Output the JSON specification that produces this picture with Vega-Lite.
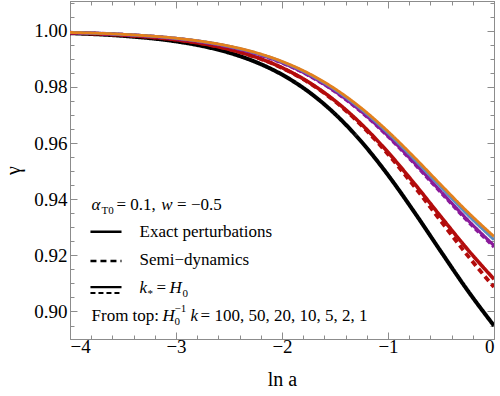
{
  "$schema": "https://vega.github.io/schema/vega-lite/v6.json",
  "width": 424,
  "height": 338,
  "autosize": {"type": "none"},
  "padding": {"left": 70, "top": 1, "right": 6, "bottom": 57},
  "background": "white",
  "view": {"stroke": "#8c8c8c"},
  "config": {
    "font": "Liberation Serif",
    "axis": {"domainColor": "#8c8c8c", "tickColor": "#8c8c8c", "grid": false, "labelFont": "Liberation Serif", "titleFont": "Liberation Serif", "labelColor": "black", "titleColor": "black", "titleFontWeight": "normal"}
  },
  "datasets": {
    "curves": [
      {"s":"1","x":-4,"y":0.99914},{"s":"1","x":-3.5,"y":0.99818},{"s":"1","x":-3,"y":0.99621},{"s":"1","x":-2.75,"y":0.99455},{"s":"1","x":-2.5,"y":0.99219},{"s":"1","x":-2.25,"y":0.9889},{"s":"1","x":-2,"y":0.98438},{"s":"1","x":-1.75,"y":0.9783},{"s":"1","x":-1.5,"y":0.97037},{"s":"1","x":-1.25,"y":0.96044},{"s":"1","x":-1,"y":0.94861},{"s":"1","x":-0.75,"y":0.9353},{"s":"1","x":-0.5,"y":0.9213},{"s":"1","x":-0.25,"y":0.90755},{"s":"1","x":0,"y":0.89493},
      {"s":"2d","x":-4,"y":0.99927},{"s":"2d","x":-3.5,"y":0.99847},{"s":"2d","x":-3,"y":0.99681},{"s":"2d","x":-2.75,"y":0.99541},{"s":"2d","x":-2.5,"y":0.99341},{"s":"2d","x":-2.25,"y":0.99062},{"s":"2d","x":-2,"y":0.98678},{"s":"2d","x":-1.75,"y":0.9816},{"s":"2d","x":-1.5,"y":0.97483},{"s":"2d","x":-1.25,"y":0.96629},{"s":"2d","x":-1,"y":0.95605},{"s":"2d","x":-0.75,"y":0.94446},{"s":"2d","x":-0.5,"y":0.93216},{"s":"2d","x":-0.25,"y":0.91998},{"s":"2d","x":0,"y":0.90872},
      {"s":"2","x":-4,"y":0.99927},{"s":"2","x":-3.5,"y":0.99847},{"s":"2","x":-3,"y":0.99681},{"s":"2","x":-2.75,"y":0.99541},{"s":"2","x":-2.5,"y":0.99342},{"s":"2","x":-2.25,"y":0.99065},{"s":"2","x":-2,"y":0.98684},{"s":"2","x":-1.75,"y":0.98172},{"s":"2","x":-1.5,"y":0.97505},{"s":"2","x":-1.25,"y":0.96669},{"s":"2","x":-1,"y":0.95672},{"s":"2","x":-0.75,"y":0.94552},{"s":"2","x":-0.5,"y":0.93373},{"s":"2","x":-0.25,"y":0.92215},{"s":"2","x":0,"y":0.91152},
      {"s":"5d","x":-4,"y":0.99937},{"s":"5d","x":-3.5,"y":0.99867},{"s":"5d","x":-3,"y":0.99722},{"s":"5d","x":-2.75,"y":0.996},{"s":"5d","x":-2.5,"y":0.99428},{"s":"5d","x":-2.25,"y":0.99187},{"s":"5d","x":-2,"y":0.98855},{"s":"5d","x":-1.75,"y":0.9841},{"s":"5d","x":-1.5,"y":0.97829},{"s":"5d","x":-1.25,"y":0.97101},{"s":"5d","x":-1,"y":0.96234},{"s":"5d","x":-0.75,"y":0.95259},{"s":"5d","x":-0.5,"y":0.94233},{"s":"5d","x":-0.25,"y":0.93225},{"s":"5d","x":0,"y":0.923},
      {"s":"5","x":-4,"y":0.99937},{"s":"5","x":-3.5,"y":0.99868},{"s":"5","x":-3,"y":0.99724},{"s":"5","x":-2.75,"y":0.99603},{"s":"5","x":-2.5,"y":0.99431},{"s":"5","x":-2.25,"y":0.99192},{"s":"5","x":-2,"y":0.98862},{"s":"5","x":-1.75,"y":0.9842},{"s":"5","x":-1.5,"y":0.97843},{"s":"5","x":-1.25,"y":0.9712},{"s":"5","x":-1,"y":0.96258},{"s":"5","x":-0.75,"y":0.95289},{"s":"5","x":-0.5,"y":0.94269},{"s":"5","x":-0.25,"y":0.93268},{"s":"5","x":0,"y":0.92349},
      {"s":"10","x":-4,"y":0.99939},{"s":"10","x":-3.5,"y":0.99871},{"s":"10","x":-3,"y":0.99731},{"s":"10","x":-2.75,"y":0.99614},{"s":"10","x":-2.5,"y":0.99447},{"s":"10","x":-2.25,"y":0.99214},{"s":"10","x":-2,"y":0.98894},{"s":"10","x":-1.75,"y":0.98463},{"s":"10","x":-1.5,"y":0.97902},{"s":"10","x":-1.25,"y":0.97199},{"s":"10","x":-1,"y":0.9636},{"s":"10","x":-0.75,"y":0.95418},{"s":"10","x":-0.5,"y":0.94427},{"s":"10","x":-0.25,"y":0.93453},{"s":"10","x":0,"y":0.92559},
      {"s":"20","x":-4,"y":0.9994},{"s":"20","x":-3.5,"y":0.99873},{"s":"20","x":-3,"y":0.99735},{"s":"20","x":-2.75,"y":0.99619},{"s":"20","x":-2.5,"y":0.99455},{"s":"20","x":-2.25,"y":0.99226},{"s":"20","x":-2,"y":0.9891},{"s":"20","x":-1.75,"y":0.98486},{"s":"20","x":-1.5,"y":0.97933},{"s":"20","x":-1.25,"y":0.97241},{"s":"20","x":-1,"y":0.96415},{"s":"20","x":-0.75,"y":0.95487},{"s":"20","x":-0.5,"y":0.9451},{"s":"20","x":-0.25,"y":0.93551},{"s":"20","x":0,"y":0.92671}
    ],
    "legendRules": [
      {"x":-3.807,"x2":-3.514,"y":0.92842,"d":"solid"},
      {"x":-3.807,"x2":-3.514,"y":0.91798,"d":"dash"},
      {"x":-3.807,"x2":-3.514,"y":0.90871,"d":"solidThick"},
      {"x":-3.807,"x2":-3.514,"y":0.90658,"d":"dashThick"}
    ],
    "roman": [
      {"t":"= 0.1,","x":-3.561,"y":0.93792},
      {"t":"=  −0.5","x":-2.99,"y":0.93792},
      {"t":"Exact perturbations","x":-3.344,"y":0.92841},
      {"t":"Semi−dynamics","x":-3.344,"y":0.91833},
      {"t":"=","x":-3.184,"y":0.90836},
      {"t":"From top:","x":-3.797,"y":0.89838},
      {"t":"= 100, 50, 20, 10, 5, 2, 1","x":-2.768,"y":0.89838}
    ],
    "italic": [
      {"t":"α","x":-3.797,"y":0.93792},
      {"t":"w","x":-3.14,"y":0.93792},
      {"t":"k","x":-3.344,"y":0.90836},
      {"t":"H","x":-3.061,"y":0.90836},
      {"t":"H","x":-3.127,"y":0.89838},
      {"t":"k","x":-2.863,"y":0.89838}
    ],
    "sub": [
      {"t":"T0","x":-3.703,"y":0.93792},
      {"t":"*","x":-3.269,"y":0.90836},
      {"t":"0","x":-2.939,"y":0.90836},
      {"t":"0","x":-3.014,"y":0.89838}
    ],
    "sup": [
      {"t":"−1","x":-3.014,"y":0.89838}
    ]
  },
  "resolve": {"axis": {"x": "independent", "y": "independent"}},
  "layer": [
    {
      "data": {"name": "curves"},
      "mark": {"type": "line", "interpolate": "monotone", "clip": true},
      "encoding": {
        "x": {"field": "x", "type": "quantitative",
          "scale": {"domain": [-4, 0], "nice": false, "zero": false},
          "axis": {"orient": "bottom", "title": "ln a", "titleFontSize": 20, "titlePadding": 13,
            "values": [-4,-3.8,-3.6,-3.4,-3.2,-3,-2.8,-2.6,-2.4,-2.2,-2,-1.8,-1.6,-1.4,-1.2,-1,-0.8,-0.6,-0.4,-0.2,0],
            "format": ".0f", "labelFontSize": 19, "labelPadding": 5, "labelBaseline": "top",
            "labelExpr": "abs(datum.value - round(datum.value)) < 0.001 ? datum.label : ''",
            "tickSize": {"condition": {"test": "abs(datum.value - round(datum.value)) < 0.001", "value": -7}, "value": -4}}},
        "y": {"field": "y", "type": "quantitative",
          "scale": {"domain": [0.8902, 1.0106], "nice": false, "zero": false},
          "axis": {"orient": "left", "title": "γ", "titleFontSize": 20, "titlePadding": 10,
            "values": [0.895,0.9,0.905,0.91,0.915,0.92,0.925,0.93,0.935,0.94,0.945,0.95,0.955,0.96,0.965,0.97,0.975,0.98,0.985,0.99,0.995,1.0,1.005,1.01],
            "format": ".2f", "labelFontSize": 19, "labelPadding": 10, "labelAlign": "right", "labelBaseline": "middle",
            "labelExpr": "abs(datum.value*50 - round(datum.value*50)) < 0.001 ? datum.label : ''",
            "tickSize": {"condition": {"test": "abs(datum.value*50 - round(datum.value*50)) < 0.001", "value": -7}, "value": -4}}},
        "color": {"field": "s", "type": "nominal", "legend": null,
          "scale": {"domain": ["1","2d","2","5d","5","10","20"], "range": ["#000000","#b30c0c","#b30c0c","#8a1a9b","#8a1a9b","#5b8cc2","#e3801c"]}},
        "strokeDash": {"field": "s", "type": "nominal", "legend": null,
          "scale": {"domain": ["1","2d","2","5d","5","10","20"], "range": [[1,0],[6,4],[1,0],[5,3],[1,0],[1,0],[1,0]]}},
        "strokeWidth": {"field": "s", "type": "nominal", "legend": null,
          "scale": {"domain": ["1","2d","2","5d","5","10","20"], "range": [4,2,2,2.5,2.5,2.5,3]}}
      }
    },
    {
      "data": {"name": "curves"},
      "mark": {"type": "line", "opacity": 0},
      "encoding": {
        "x": {"field": "x", "type": "quantitative",
          "axis": {"orient": "top", "title": null, "labels": false,
            "values": [-4,-3.8,-3.6,-3.4,-3.2,-3,-2.8,-2.6,-2.4,-2.2,-2,-1.8,-1.6,-1.4,-1.2,-1,-0.8,-0.6,-0.4,-0.2,0],
            "tickSize": {"condition": {"test": "abs(datum.value - round(datum.value)) < 0.001", "value": -7}, "value": -4}}},
        "y": {"field": "y", "type": "quantitative",
          "axis": {"orient": "right", "title": null, "labels": false,
            "values": [0.895,0.9,0.905,0.91,0.915,0.92,0.925,0.93,0.935,0.94,0.945,0.95,0.955,0.96,0.965,0.97,0.975,0.98,0.985,0.99,0.995,1.0,1.005,1.01],
            "tickSize": {"condition": {"test": "abs(datum.value*50 - round(datum.value*50)) < 0.001", "value": -7}, "value": -4}}}
      }
    },
    {
      "data": {"name": "legendRules"},
      "mark": {"type": "rule", "color": "black"},
      "encoding": {
        "x": {"field": "x", "type": "quantitative", "axis": null},
        "x2": {"field": "x2"},
        "y": {"field": "y", "type": "quantitative", "axis": null},
        "strokeDash": {"field": "d", "type": "nominal", "legend": null,
          "scale": {"domain": ["solid","dash","solidThick","dashThick"], "range": [[1,0],[6,3],[1,0],[6,3]]}},
        "strokeWidth": {"field": "d", "type": "nominal", "legend": null,
          "scale": {"domain": ["solid","dash","solidThick","dashThick"], "range": [2,2,3,3]}}
      }
    },
    {
      "data": {"name": "roman"},
      "mark": {"type": "text", "align": "left", "baseline": "middle", "fontSize": 17, "font": "Liberation Serif", "color": "black"},
      "encoding": {
        "x": {"field": "x", "type": "quantitative", "axis": null},
        "y": {"field": "y", "type": "quantitative", "axis": null},
        "text": {"field": "t"}
      }
    },
    {
      "data": {"name": "italic"},
      "mark": {"type": "text", "align": "left", "baseline": "middle", "fontSize": 17, "fontStyle": "italic", "font": "Liberation Serif", "color": "black"},
      "encoding": {
        "x": {"field": "x", "type": "quantitative", "axis": null},
        "y": {"field": "y", "type": "quantitative", "axis": null},
        "text": {"field": "t"}
      }
    },
    {
      "data": {"name": "sub"},
      "mark": {"type": "text", "align": "left", "baseline": "middle", "fontSize": 11, "dy": 6, "font": "Liberation Serif", "color": "black"},
      "encoding": {
        "x": {"field": "x", "type": "quantitative", "axis": null},
        "y": {"field": "y", "type": "quantitative", "axis": null},
        "text": {"field": "t"}
      }
    },
    {
      "data": {"name": "sup"},
      "mark": {"type": "text", "align": "left", "baseline": "middle", "fontSize": 11, "dy": -7, "font": "Liberation Serif", "color": "black"},
      "encoding": {
        "x": {"field": "x", "type": "quantitative", "axis": null},
        "y": {"field": "y", "type": "quantitative", "axis": null},
        "text": {"field": "t"}
      }
    }
  ]
}
